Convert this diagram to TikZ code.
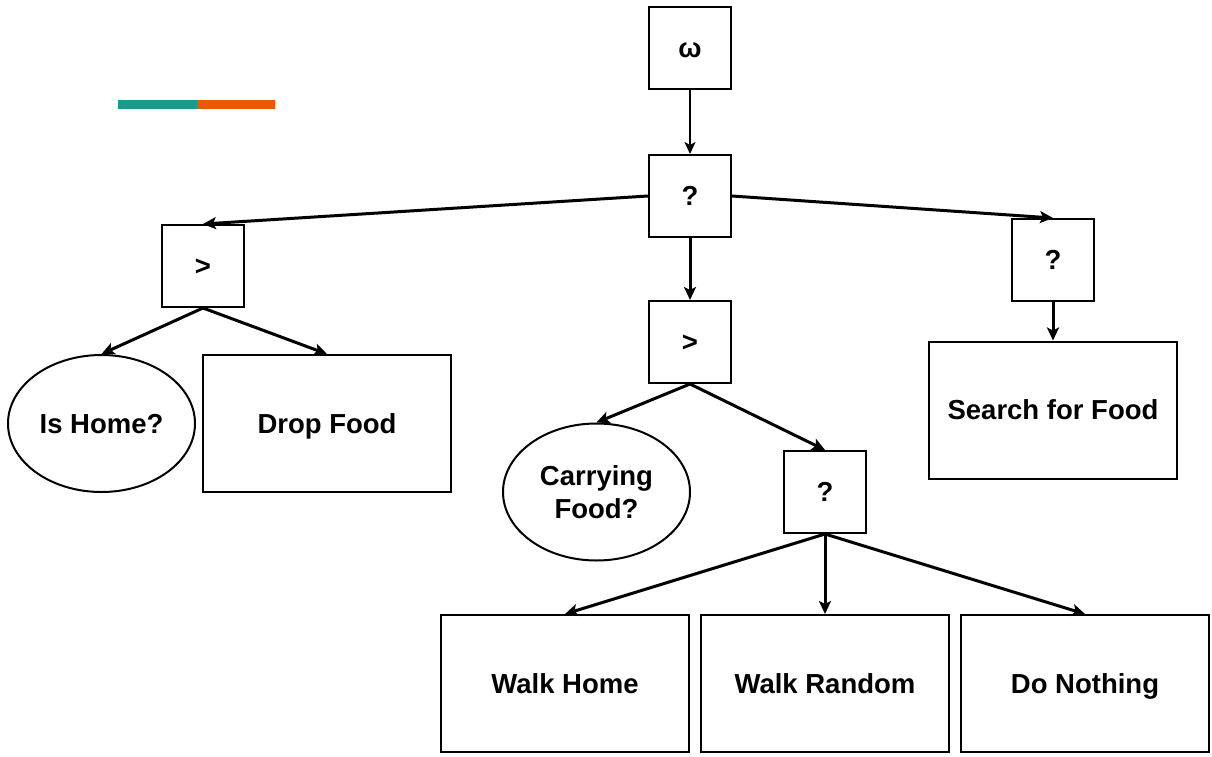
\documentclass[tikz,border=0pt]{standalone}
\usepackage{fontspec}
\setmainfont{Liberation Sans}
\usetikzlibrary{arrows.meta,shapes.geometric}
\definecolor{tealbar}{HTML}{1A9A8A}
\definecolor{orangebar}{HTML}{EC5800}
\begin{document}
\begin{tikzpicture}[x=1pt,y=-1pt,
  every node/.style={font=\fontsize{27.5}{33}\selectfont\bfseries, align=center, inner sep=0pt,
    text height=20pt, text depth=0.5pt},
  sq/.style={draw, line width=2pt, minimum width=82pt, minimum height=82pt},
  act/.style={draw, line width=2pt, minimum width=248pt, minimum height=137pt},
  cond/.style={draw, ellipse, line width=2pt, minimum width=187pt, minimum height=137pt},
  twolines/.style={text height=53pt},
  edge/.style={line width=3pt, -{Stealth[length=13pt,width=12pt,inset=3pt]}},
  thinedge/.style={line width=2pt, -{Stealth[length=12pt,width=11pt,inset=3pt]}}]
\useasboundingbox (0,0) rectangle (1212,757);

% legend bar
\fill[tealbar] (118,100) rectangle (197,109);
\fill[orangebar] (197,100) rectangle (275,109);

% control nodes
\node[sq] (root) at (690,48) {ω};
\node[sq] (sel) at (690,196) {?};
\node[sq] (seqL) at (203,266) {>};
\node[sq] (selR) at (1053,260) {?};
\node[sq] (seqM) at (690,342) {>};
\node[sq] (selW) at (825,492) {?};

% conditions and actions
\node[cond] (home) at (101.5,423.5) {Is Home?};
\node[act] (drop) at (327,423.5) {Drop Food};
\node[act] (search) at (1053,410) {Search for Food};
\node[cond, twolines] (carry) at (596.5,492) {Carrying\\Food?};
\node[act] (walkhome) at (565,683.5) {Walk Home};
\node[act] (walkrand) at (825,683.5) {Walk Random};
\node[act] (nothing) at (1085,683.5) {Do Nothing};

% connectors
\draw[thinedge] (root.south) -- (sel.north);
\draw[edge] (sel.west) -- (seqL.north);
\draw[edge] (sel.east) -- (selR.north);
\draw[edge] (sel.south) -- (seqM.north);
\draw[edge] (selR.south) -- (search.north);
\draw[edge] (seqL.south) -- (home.north);
\draw[edge] (seqL.south) -- (drop.north);
\draw[edge] (seqM.south) -- (carry.north);
\draw[edge] (seqM.south) -- (selW.north);
\draw[edge] (selW.south) -- (walkhome.north);
\draw[edge] (selW.south) -- (walkrand.north);
\draw[edge] (selW.south) -- (nothing.north);
\end{tikzpicture}
\end{document}
